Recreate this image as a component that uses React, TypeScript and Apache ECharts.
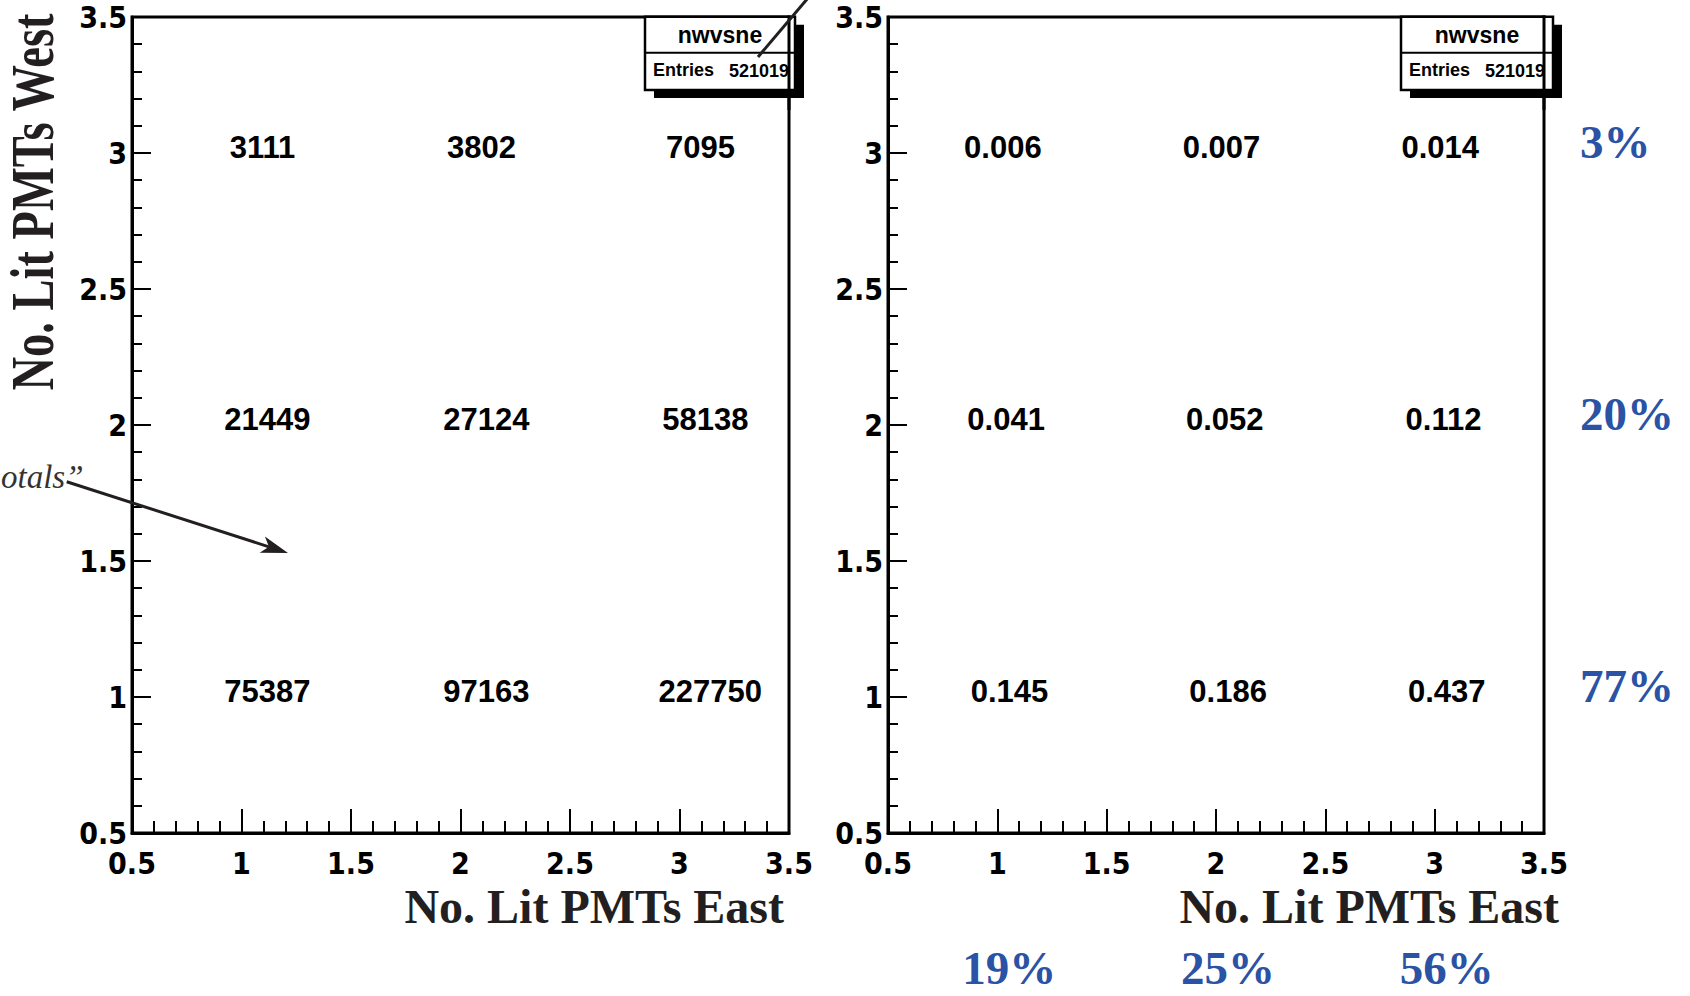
import React, { useEffect, useRef } from "react";
import * as echarts from "echarts";

// ---- data ----
const eastValues = [1, 2, 3];
const westValues = [1, 2, 3];
// rows: West = 1, 2, 3 ; columns: East = 1, 2, 3
const countsByWest = [
  [75387, 97163, 227750],
  [21449, 27124, 58138],
  [3111, 3802, 7095],
];
const fractionsByWest = [
  ["0.145", "0.186", "0.437"],
  ["0.041", "0.052", "0.112"],
  ["0.006", "0.007", "0.014"],
];
const westPercents = ["77%", "20%", "3%"];
const eastPercents = ["19%", "25%", "56%"];
const histName = "nwvsne";
const entriesLabel = "Entries";
const entries = 521019;
const axisMin = 0.5;
const axisMax = 3.5;
const axisStep = 0.5;
const xTitle = "No. Lit PMTs East";
const yTitle = "No. Lit PMTs West";
const annotationText = "otals\u201d";

// ---- styles ----
const INK = "#231f20";
const BLUE = "#2a52a5";
const SANS = '"Liberation Sans", Arial, Helvetica, sans-serif';
const SERIF = '"Liberation Serif", "Times New Roman", Times, serif';
const WIDE = '"DejaVu Sans Condensed", "DejaVu Sans", sans-serif';

const cellPoints: number[][] = [];
const cellCounts: string[] = [];
const cellFractions: string[] = [];
westValues.forEach((w, i) => {
  eastValues.forEach((e, j) => {
    cellPoints.push([e, w]);
    cellCounts.push(String(countsByWest[i][j]));
    cellFractions.push(fractionsByWest[i][j]);
  });
});

function makeXAxis(gridIndex: number) {
  return {
    type: "value",
    gridIndex,
    min: axisMin,
    max: axisMax,
    interval: axisStep,
    axisLine: { show: true, onZero: false, lineStyle: { color: "#000", width: 3 } },
    axisTick: { show: true, inside: true, length: 24, lineStyle: { color: "#000", width: 2 } },
    minorTick: { show: true, splitNumber: 5, length: 12, lineStyle: { color: "#000", width: 2 } },
    axisLabel: {
      show: true,
      margin: 15,
      color: "#000",
      fontFamily: WIDE,
      fontWeight: "bold",
      fontSize: 30,
      formatter: (v: number) => String(v),
    },
    splitLine: { show: false },
    minorSplitLine: { show: false },
  };
}

function makeYAxis(gridIndex: number) {
  return {
    type: "value",
    gridIndex,
    min: axisMin,
    max: axisMax,
    interval: axisStep,
    axisLine: { show: true, onZero: false, lineStyle: { color: "#000", width: 3 } },
    axisTick: { show: true, inside: true, length: 19, lineStyle: { color: "#000", width: 2 } },
    minorTick: { show: true, splitNumber: 5, length: 10, lineStyle: { color: "#000", width: 2 } },
    axisLabel: {
      show: true,
      margin: 5,
      color: "#000",
      fontFamily: WIDE,
      fontWeight: "bold",
      fontSize: 30,
      formatter: (v: number) => String(v),
    },
    splitLine: { show: false },
    minorSplitLine: { show: false },
  };
}

// horizontal text offset of the cell labels (as in the reference rendering)
const countOffset = (label: string, west: number) => 21 + 4.85 * (label.length - 4);
const fractionOffset = (label: string, west: number) => 5.5 + 3.3 * (3 - west);

function cellSeries(idx: number, labels: string[], offset: (l: string, w: number) => number) {
  return {
    type: "custom",
    xAxisIndex: idx,
    yAxisIndex: idx,
    clip: false,
    silent: true,
    data: cellPoints,
    renderItem: (params: any, api: any) => {
      const xv = api.value(0);
      const yv = api.value(1);
      const p = api.coord([xv, yv]);
      const label = labels[params.dataIndex];
      return {
        type: "text",
        x: p[0] + offset(label, yv),
        y: p[1] - 6,
        style: {
          text: label,
          fill: "#000",
          fontFamily: SANS,
          fontWeight: "bold",
          fontSize: 31,
          align: "center",
          verticalAlign: "middle",
          textAlign: "center",
          textVerticalAlign: "middle",
        },
      };
    },
  };
}

function eastPercentSeries(idx: number) {
  return {
    type: "custom",
    xAxisIndex: idx,
    yAxisIndex: idx,
    clip: false,
    silent: true,
    data: eastValues.map((e) => [e, axisMin]),
    renderItem: (params: any, api: any) => {
      const p = api.coord([api.value(0), api.value(1)]);
      return {
        type: "text",
        x: p[0] + 12,
        y: p[1] + 135,
        style: {
          text: eastPercents[params.dataIndex],
          fill: BLUE,
          fontFamily: SERIF,
          fontWeight: "bold",
          fontSize: 47,
          align: "center",
          verticalAlign: "middle",
          textAlign: "center",
          textVerticalAlign: "middle",
        },
      };
    },
  };
}

function westPercentSeries(idx: number) {
  return {
    type: "custom",
    xAxisIndex: idx,
    yAxisIndex: idx,
    clip: false,
    silent: true,
    data: westValues.map((w) => [axisMax, w]),
    renderItem: (params: any, api: any) => {
      const p = api.coord([api.value(0), api.value(1)]);
      return {
        type: "text",
        x: p[0] + 36,
        y: p[1] - 11,
        style: {
          text: westPercents[params.dataIndex],
          fill: BLUE,
          fontFamily: SERIF,
          fontWeight: "bold",
          fontSize: 47,
          align: "left",
          verticalAlign: "middle",
          textAlign: "left",
          textVerticalAlign: "middle",
        },
      };
    },
  };
}

function statsBox(left: number, width: number, frameX: number) {
  const top = 16.7;
  const h = 73.3;
  const div = 52.7;
  return [
    { type: "rect", z: 50, shape: { x: left + 9, y: top + 8, width, height: h }, style: { fill: "#000" } },
    { type: "rect", z: 51, shape: { x: left, y: top, width, height: h }, style: { fill: "#fff", stroke: "#000", lineWidth: 2.5 } },
    { type: "line", z: 52, shape: { x1: left, y1: div, x2: left + width, y2: div }, style: { stroke: "#000", lineWidth: 2 } },
    {
      type: "text", z: 53, x: left + width / 2, y: (top + div) / 2,
      style: { text: histName, fill: "#000", fontFamily: SANS, fontWeight: "bold", fontSize: 23, align: "center", verticalAlign: "middle" },
    },
    {
      type: "text", z: 53, x: left + 8, y: 70,
      style: { text: entriesLabel, fill: "#000", fontFamily: SANS, fontWeight: "bold", fontSize: 18, align: "left", verticalAlign: "middle" },
    },
    {
      type: "text", z: 53, x: left + 84, y: 71,
      style: { text: String(entries), fill: "#000", fontFamily: SANS, fontWeight: "bold", fontSize: 18, align: "left", verticalAlign: "middle" },
    },
    { type: "line", z: 60, shape: { x1: frameX, y1: 15.5, x2: frameX, y2: 110 }, style: { stroke: "#000", lineWidth: 3 } },
  ];
}

export default function App() {
  const ref = useRef<HTMLDivElement>(null);

  useEffect(() => {
    if (!ref.current) return;
    const chart = echarts.init(ref.current, undefined, { renderer: "svg" });

    // arrow geometry
    const tip = [288, 553];
    const dir = [0.952, 0.307];
    const perp = [-0.307, 0.952];
    const base = [tip[0] - 27 * dir[0], tip[1] - 27 * dir[1]];
    const notch = [tip[0] - 20 * dir[0], tip[1] - 20 * dir[1]];
    const b1 = [base[0] + 8.5 * perp[0], base[1] + 8.5 * perp[1]];
    const b2 = [base[0] - 8.5 * perp[0], base[1] - 8.5 * perp[1]];

    const option: any = {
      animation: false,
      backgroundColor: "#fff",
      grid: [
        { left: 132, top: 17, width: 657, height: 816, show: true, borderColor: "#000", borderWidth: 3, backgroundColor: "transparent" },
        { left: 888, top: 17, width: 656, height: 816, show: true, borderColor: "#000", borderWidth: 3, backgroundColor: "transparent" },
      ],
      xAxis: [makeXAxis(0), makeXAxis(1)],
      yAxis: [makeYAxis(0), makeYAxis(1)],
      series: [
        cellSeries(0, cellCounts, countOffset),
        cellSeries(1, cellFractions, fractionOffset),
        eastPercentSeries(1),
        westPercentSeries(1),
      ],
      graphic: [
        {
          type: "text", x: 33, y: 202, rotation: Math.PI / 2, scaleY: 1.3,
          style: { text: yTitle, fill: INK, fontFamily: SERIF, fontWeight: "bold", fontSize: 46.5, align: "center", verticalAlign: "middle" },
        },
        {
          type: "text", x: 784, y: 906,
          style: { text: xTitle, fill: INK, fontFamily: SERIF, fontWeight: "bold", fontSize: 48, align: "right", verticalAlign: "middle" },
        },
        {
          type: "text", x: 1559, y: 906,
          style: { text: xTitle, fill: INK, fontFamily: SERIF, fontWeight: "bold", fontSize: 48, align: "right", verticalAlign: "middle" },
        },
        ...statsBox(645, 150, 789),
        ...statsBox(1401, 152, 1544),
        { type: "line", z: 70, shape: { x1: 808, y1: -2, x2: 758, y2: 57 }, style: { stroke: INK, lineWidth: 3 } },
        {
          type: "text", x: 1, y: 477,
          style: { text: annotationText, fill: "#333", fontFamily: SERIF, fontStyle: "italic", fontSize: 33, align: "left", verticalAlign: "middle" },
        },
        { type: "line", z: 70, shape: { x1: 66.7, y1: 481.7, x2: notch[0], y2: notch[1] }, style: { stroke: INK, lineWidth: 3 } },
        { type: "polygon", z: 70, shape: { points: [tip, b1, notch, b2] }, style: { fill: INK } },
      ],
    };
    chart.setOption(option);
    return () => chart.dispose();
  }, []);

  return (
    <div
      ref={ref}
      style={{ position: "absolute", left: 0, top: 0, width: 1690, height: 996 }}
    />
  );
}
